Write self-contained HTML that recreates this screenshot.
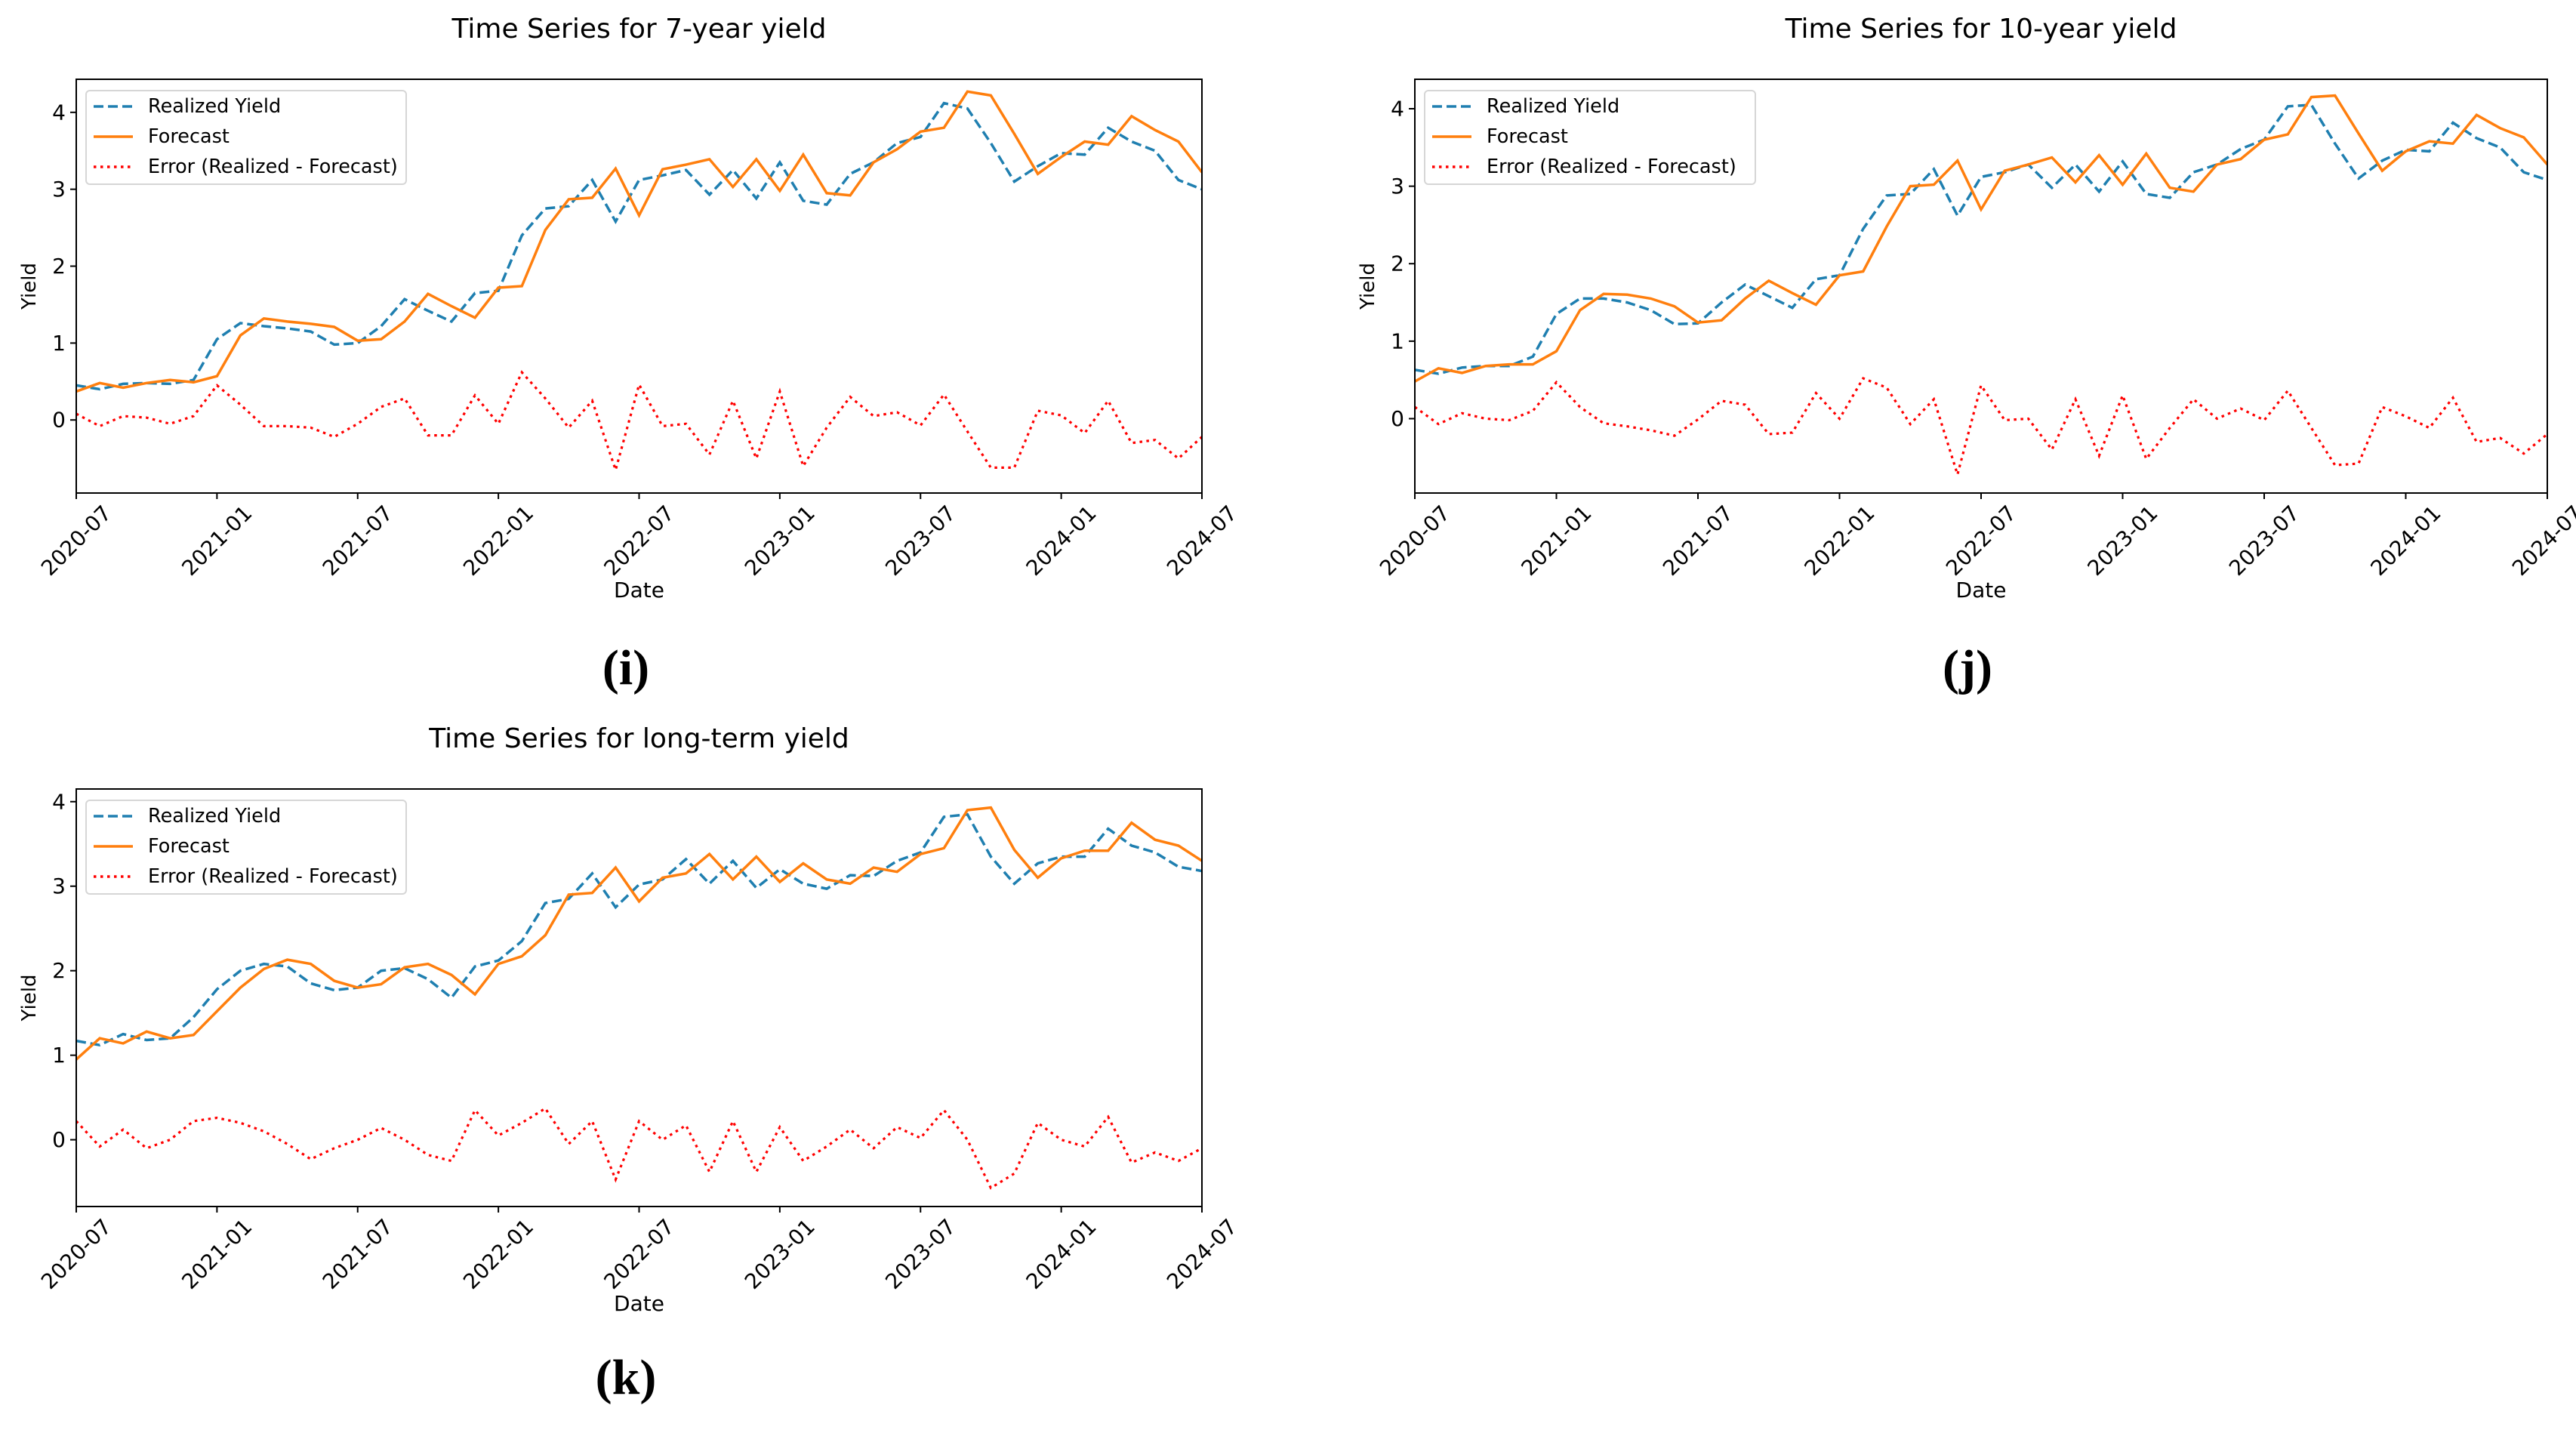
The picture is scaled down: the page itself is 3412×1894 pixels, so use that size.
<!DOCTYPE html>
<html><head><meta charset="utf-8">
<style>
html,body{margin:0;padding:0;background:#fff;}
svg{display:block;font-family:"DejaVu Sans","Liberation Sans",sans-serif;}
</style></head>
<body>
<svg id="fig" width="3412" height="1894" viewBox="0 0 3412 1894" xmlns="http://www.w3.org/2000/svg"></svg>
<script>
// Shared categories / ticks
const months = Array.from({length:49},(_,i)=>i); // month index from 2020-07
const xTickLabels = ["2020-07","2021-01","2021-07","2022-01","2022-07","2023-01","2023-07","2024-01","2024-07"];
const xTickMonths = [0,6,12,18,24,30,36,42,48];
const yTickValues = [0,1,2,3,4];

// Panel (i) 7-year
const realized7 = [0.45,0.40,0.47,0.48,0.47,0.52,1.05,1.26,1.22,1.19,1.15,0.98,1.00,1.22,1.57,1.42,1.28,1.65,1.68,2.40,2.75,2.78,3.12,2.58,3.12,3.18,3.25,2.93,3.25,2.88,3.35,2.85,2.80,3.20,3.35,3.60,3.68,4.12,4.05,3.60,3.10,3.30,3.47,3.45,3.80,3.62,3.50,3.12,3.00];
const forecast7 = [0.37,0.48,0.42,0.48,0.52,0.49,0.57,1.10,1.32,1.28,1.25,1.21,1.03,1.05,1.28,1.64,1.48,1.33,1.72,1.74,2.47,2.87,2.89,3.27,2.66,3.26,3.32,3.39,3.03,3.39,2.98,3.45,2.95,2.92,3.35,3.52,3.75,3.80,4.27,4.22,3.72,3.20,3.42,3.62,3.58,3.95,3.77,3.62,3.22];
const error7 = [0.08,-0.08,0.05,0.03,-0.05,0.05,0.45,0.20,-0.08,-0.08,-0.10,-0.22,-0.05,0.17,0.28,-0.20,-0.20,0.32,-0.05,0.62,0.28,-0.10,0.25,-0.65,0.46,-0.08,-0.05,-0.45,0.25,-0.50,0.37,-0.60,-0.10,0.30,0.05,0.10,-0.07,0.33,-0.15,-0.62,-0.62,0.12,0.06,-0.17,0.25,-0.30,-0.26,-0.50,-0.22];

// Panel (j) 10-year
const realized10 = [0.63,0.58,0.66,0.68,0.68,0.80,1.35,1.55,1.55,1.50,1.40,1.22,1.23,1.50,1.73,1.58,1.43,1.80,1.85,2.45,2.88,2.90,3.22,2.62,3.12,3.18,3.28,2.98,3.28,2.93,3.32,2.90,2.85,3.18,3.28,3.48,3.60,4.03,4.05,3.55,3.10,3.33,3.47,3.45,3.82,3.62,3.50,3.18,3.08];
const forecast10 = [0.48,0.65,0.59,0.68,0.70,0.70,0.87,1.40,1.61,1.60,1.55,1.45,1.24,1.27,1.55,1.78,1.62,1.47,1.85,1.90,2.48,3.00,3.02,3.33,2.70,3.20,3.28,3.37,3.05,3.40,3.02,3.42,2.98,2.93,3.28,3.35,3.60,3.67,4.15,4.17,3.68,3.20,3.45,3.58,3.55,3.92,3.75,3.63,3.28];
const error10 = [0.15,-0.07,0.07,0.00,-0.02,0.10,0.47,0.15,-0.06,-0.10,-0.15,-0.22,-0.01,0.23,0.18,-0.20,-0.18,0.33,0.00,0.52,0.40,-0.07,0.25,-0.72,0.43,-0.02,0.00,-0.40,0.25,-0.48,0.30,-0.52,-0.12,0.25,0.00,0.13,-0.02,0.36,-0.12,-0.60,-0.58,0.15,0.03,-0.12,0.27,-0.30,-0.25,-0.45,-0.20];

// Panel (k) long-term
const realizedLT = [1.17,1.12,1.25,1.18,1.20,1.45,1.78,2.00,2.08,2.05,1.85,1.77,1.80,2.00,2.03,1.90,1.68,2.05,2.12,2.35,2.80,2.85,3.15,2.75,3.02,3.08,3.32,3.03,3.30,2.98,3.20,3.03,2.97,3.13,3.12,3.30,3.40,3.82,3.85,3.35,3.03,3.27,3.35,3.35,3.68,3.48,3.40,3.23,3.18];
const forecastLT = [0.95,1.20,1.14,1.28,1.20,1.24,1.52,1.80,2.02,2.13,2.08,1.88,1.80,1.84,2.04,2.08,1.95,1.72,2.08,2.17,2.42,2.90,2.92,3.22,2.82,3.10,3.15,3.38,3.08,3.35,3.05,3.27,3.08,3.03,3.22,3.17,3.38,3.45,3.90,3.93,3.43,3.10,3.33,3.42,3.42,3.75,3.55,3.48,3.30];
const errorLT = [0.22,-0.08,0.12,-0.10,0.00,0.22,0.26,0.20,0.10,-0.05,-0.23,-0.10,0.00,0.14,0.00,-0.18,-0.25,0.35,0.05,0.20,0.37,-0.05,0.22,-0.47,0.22,0.00,0.17,-0.38,0.22,-0.38,0.15,-0.25,-0.08,0.12,-0.10,0.15,0.02,0.35,0.00,-0.57,-0.40,0.20,0.00,-0.08,0.27,-0.27,-0.15,-0.25,-0.10];

const NS="http://www.w3.org/2000/svg";
const fig=document.getElementById('fig');
function mk(tag,attrs,parent){const e=document.createElementNS(NS,tag);for(const k in attrs)e.setAttribute(k,attrs[k]);(parent||fig).appendChild(e);return e;}

function panel(cfg){
  const g=mk('g',{});
  
  
  const {L,R,T,B,ymin,ymax}=cfg;
  const xs=m=>L+(R-L)*m/48;
  const ys=v=>B-(B-T)*(v-ymin)/(ymax-ymin);
  const t=mk('text',{x:(L+R)/2,y:T-55,'text-anchor':'middle','font-size':36,fill:'#000'},g);
  t.textContent=cfg.title;
  
  
  yTickValues.forEach(v=>{
    const y=ys(v);
    mk('line',{x1:L-8,x2:L,y1:y,y2:y,stroke:'#000','stroke-width':2},g);
    const tl=mk('text',{x:L-14,y:y,'text-anchor':'end','dominant-baseline':'central','font-size':28,fill:'#000'},g);
    tl.textContent=v;
    
    
  });
  xTickMonths.forEach((m,i)=>{
    const x=xs(m);
    mk('line',{x1:x,x2:x,y1:B,y2:B+8,stroke:'#000','stroke-width':2},g);
    const cy=B+63;
    const tl=mk('text',{x:x,y:cy,'text-anchor':'middle','dominant-baseline':'central','font-size':28,fill:'#000',transform:`rotate(-45 ${x} ${cy})`},g);
    tl.textContent=xTickLabels[i];
    
    
  });
  const xl=mk('text',{x:(L+R)/2,y:B+138,'text-anchor':'middle','font-size':28,fill:'#000'},g);
  xl.textContent='Date';
  
  
  const yc=(T+B)/2, ylx=L-54;
  const yl=mk('text',{x:ylx,y:yc,'text-anchor':'middle','font-size':26,fill:'#000',transform:`rotate(-90 ${ylx} ${yc})`},g);
  yl.textContent='Yield';
  
  
  const clip='clip-'+cfg.id;
  const cp=mk('clipPath',{id:clip},g); mk('rect',{x:L,y:T,width:R-L,height:B-T},cp);
  const path=arr=>arr.map((v,i)=>(i?'L':'M')+xs(months[i]).toFixed(1)+','+ys(v).toFixed(1)).join(' ');
  const pe=mk('path',{d:path(cfg.err),fill:'none',stroke:'#ff0000','stroke-width':3.2,'stroke-dasharray':'3.5,5.5','clip-path':`url(#${clip})`},g);
  
  
  const pr=mk('path',{d:path(cfg.real),fill:'none',stroke:'#1f7fb0','stroke-width':3.5,'stroke-dasharray':'13,6','clip-path':`url(#${clip})`},g);
  
  
  const pf=mk('path',{d:path(cfg.fc),fill:'none',stroke:'#ff7f0e','stroke-width':3.5,'clip-path':`url(#${clip})`},g);
  
  
  mk('rect',{x:L,y:T,width:R-L,height:B-T,fill:'none',stroke:'#000','stroke-width':2},g);
  const lg=mk('g',{},g);
  
  
  const lx=L+13, ly=T+15;
  mk('rect',{x:lx,y:ly,width:cfg.legW,height:124,rx:5,fill:'#fff','fill-opacity':0.8,stroke:'#d6d6d6','stroke-width':2},lg);
  const items=[['Realized Yield','#1f7fb0','13,6'],['Forecast','#ff7f0e',''],['Error (Realized - Forecast)','#ff0000','3.5,5.5']];
  items.forEach((it,i)=>{
    const y=ly+21+i*40;
    const ln=mk('line',{x1:lx+10,x2:lx+62,y1:y,y2:y,stroke:it[1],'stroke-width':3.5},lg);
    if(it[2]) ln.setAttribute('stroke-dasharray',it[2]);
    const tx=mk('text',{x:lx+82,y:y,'dominant-baseline':'central','font-size':25.5,fill:'#000'},lg);
    tx.textContent=it[0];
    
    
  });
  const pl=mk('text',{x:cfg.labX,y:cfg.labY,'text-anchor':'middle','font-size':66,'font-weight':'bold','font-family':'"Liberation Serif",serif',fill:'#000'},g);
  pl.textContent=cfg.label;
  
  
}

panel({id:'i',title:'Time Series for 7-year yield',L:101,R:1592,T:105,B:653,ymin:-0.95,ymax:4.43,real:realized7,fc:forecast7,err:error7,label:'(i)',labX:829,labY:906,legW:424});
panel({id:'j',title:'Time Series for 10-year yield',L:1874,R:3374,T:105,B:653,ymin:-0.96,ymax:4.38,real:realized10,fc:forecast10,err:error10,label:'(j)',labX:2606,labY:906,legW:438});
panel({id:'k',title:'Time Series for long-term yield',L:101,R:1592,T:1045,B:1598,ymin:-0.79,ymax:4.15,real:realizedLT,fc:forecastLT,err:errorLT,label:'(k)',labX:829,labY:1846,legW:424});
</script>
</body></html>
